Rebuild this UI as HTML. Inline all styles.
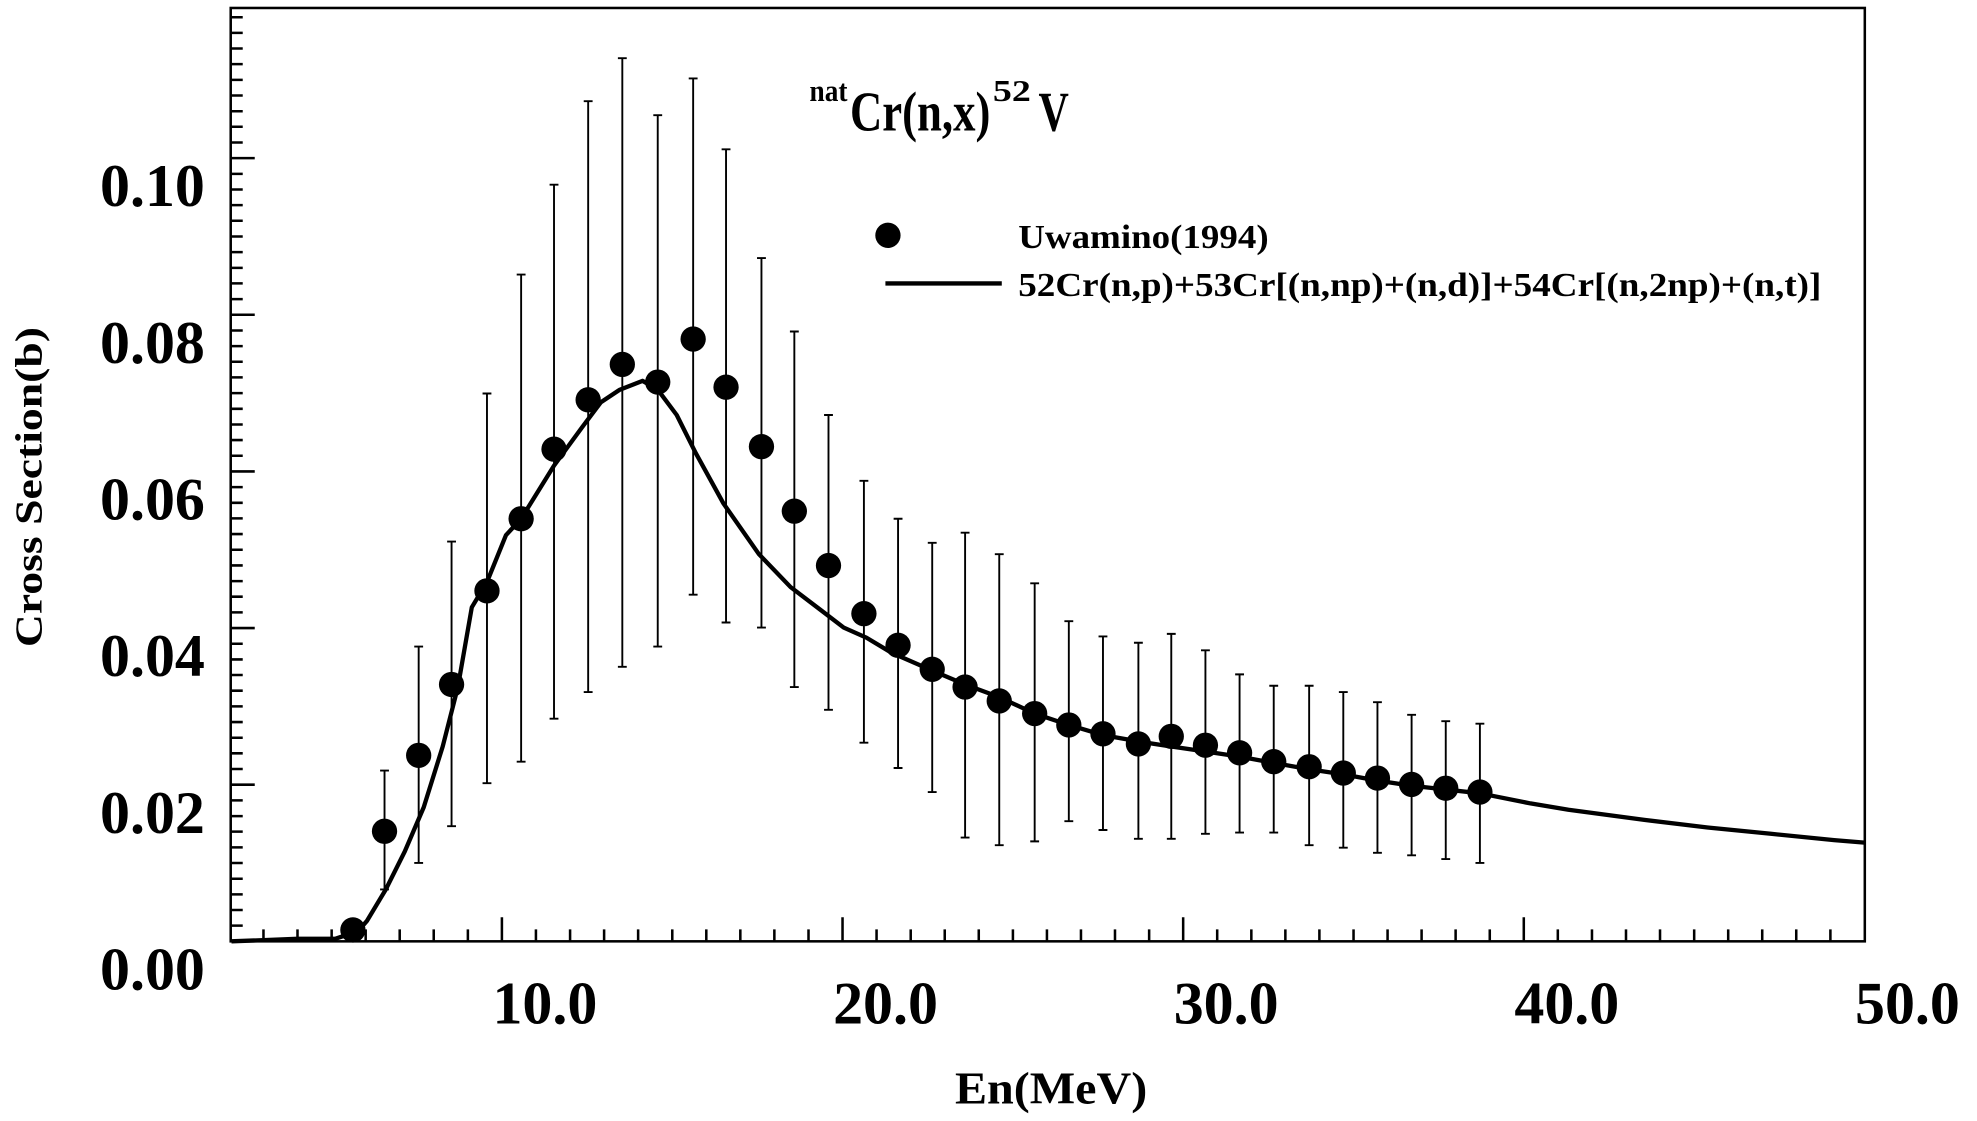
<!DOCTYPE html>
<html><head><meta charset="utf-8"><style>html,body{margin:0;padding:0;background:#fff}svg{display:block}</style></head>
<body>
<svg width="1977" height="1121" viewBox="0 0 1563 886" preserveAspectRatio="none" xmlns="http://www.w3.org/2000/svg" font-family="Liberation Serif, serif" font-weight="bold">
<rect x="0" y="0" width="1563" height="886" fill="#fff"/>
<rect x="182.4" y="6.3" width="1291.9" height="737.7" fill="none" stroke="#000" stroke-width="2"/>
<path stroke="#000" stroke-width="2" fill="none" d="M208.3 744v-9.5M235.2 744v-9.5M262.2 744v-9.5M289.1 744v-9.5M316 744v-9.5M342.9 744v-9.5M369.9 744v-9.5M396.8 744v-19M423.7 744v-9.5M450.7 744v-9.5M477.6 744v-9.5M504.5 744v-9.5M531.5 744v-9.5M558.4 744v-9.5M585.3 744v-9.5M612.2 744v-9.5M639.2 744v-9.5M666.1 744v-19M693 744v-9.5M720 744v-9.5M746.9 744v-9.5M773.8 744v-9.5M800.8 744v-9.5M827.7 744v-9.5M854.6 744v-9.5M881.5 744v-9.5M908.5 744v-9.5M935.4 744v-19M962.3 744v-9.5M989.3 744v-9.5M1016.2 744v-9.5M1043.1 744v-9.5M1070.1 744v-9.5M1097 744v-9.5M1123.9 744v-9.5M1150.8 744v-9.5M1177.8 744v-9.5M1204.7 744v-19M1231.6 744v-9.5M1258.6 744v-9.5M1285.5 744v-9.5M1312.4 744v-9.5M1339.4 744v-9.5M1366.3 744v-9.5M1393.2 744v-9.5M1420.1 744v-9.5M1447.1 744v-9.5
M182.4 731.6h9.5M182.4 719.2h9.5M182.4 706.9h9.5M182.4 694.5h9.5M182.4 682.1h9.5M182.4 669.7h9.5M182.4 657.3h9.5M182.4 645h9.5M182.4 632.6h9.5M182.4 620.2h19M182.4 607.8h9.5M182.4 595.4h9.5M182.4 583.1h9.5M182.4 570.7h9.5M182.4 558.3h9.5M182.4 545.9h9.5M182.4 533.5h9.5M182.4 521.2h9.5M182.4 508.8h9.5M182.4 496.4h19M182.4 484h9.5M182.4 471.6h9.5M182.4 459.3h9.5M182.4 446.9h9.5M182.4 434.5h9.5M182.4 422.1h9.5M182.4 409.7h9.5M182.4 397.4h9.5M182.4 385h9.5M182.4 372.6h19M182.4 360.2h9.5M182.4 347.8h9.5M182.4 335.5h9.5M182.4 323.1h9.5M182.4 310.7h9.5M182.4 298.3h9.5M182.4 285.9h9.5M182.4 273.6h9.5M182.4 261.2h9.5M182.4 248.8h19M182.4 236.4h9.5M182.4 224h9.5M182.4 211.7h9.5M182.4 199.3h9.5M182.4 186.9h9.5M182.4 174.5h9.5M182.4 162.1h9.5M182.4 149.8h9.5M182.4 137.4h9.5M182.4 125h19M182.4 112.6h9.5M182.4 100.2h9.5M182.4 87.9h9.5M182.4 75.5h9.5M182.4 63.1h9.5M182.4 50.7h9.5M182.4 38.3h9.5M182.4 26h9.5M182.4 13.6h9.5"/>
<g font-size="47.4" fill="#000">
<text x="430.8" y="809" text-anchor="middle">10.0</text>
<text x="700.1" y="809" text-anchor="middle">20.0</text>
<text x="969.4" y="809" text-anchor="middle">30.0</text>
<text x="1238.7" y="809" text-anchor="middle">40.0</text>
<text x="1508" y="809" text-anchor="middle">50.0</text>
<text x="162" y="782" text-anchor="end">0.00</text>
<text x="162" y="658.2" text-anchor="end">0.02</text>
<text x="162" y="534.4" text-anchor="end">0.04</text>
<text x="162" y="410.6" text-anchor="end">0.06</text>
<text x="162" y="286.8" text-anchor="end">0.08</text>
<text x="162" y="163" text-anchor="end">0.10</text>
</g>
<text x="831" y="872" font-size="36" text-anchor="middle" textLength="152" lengthAdjust="spacingAndGlyphs">En(MeV)</text>
<text transform="translate(33,385) rotate(-90)" font-size="30" text-anchor="middle" textLength="253" lengthAdjust="spacingAndGlyphs">Cross Section(b)</text>
<text x="640" y="80" font-size="24" textLength="30" lengthAdjust="spacingAndGlyphs">nat</text>
<text x="672" y="103" font-size="44" textLength="111" lengthAdjust="spacingAndGlyphs">Cr(n,x)</text>
<text x="785" y="80" font-size="24" textLength="30" lengthAdjust="spacingAndGlyphs">52</text>
<text x="821" y="103" font-size="44" textLength="24" lengthAdjust="spacingAndGlyphs">V</text>
<circle cx="702" cy="186" r="10" fill="#000"/>
<text x="805" y="196" font-size="27" textLength="198" lengthAdjust="spacingAndGlyphs">Uwamino(1994)</text>
<line x1="700" y1="224" x2="792" y2="224" stroke="#000" stroke-width="3.5"/>
<text x="805" y="234" font-size="27" textLength="635" lengthAdjust="spacingAndGlyphs">52Cr(n,p)+53Cr[(n,np)+(n,d)]+54Cr[(n,2np)+(n,t)]</text>
<polyline fill="none" stroke="#000" stroke-width="3.4" stroke-linejoin="round" points="183,744 235,742 265,742 283,736 290,728 305,703 320,673 335,638 350,590 362,543 373,480 385,460 400,423 412,410 438,368 460,338 475,318 490,308 508,301 520,308 535,328 550,358 572,398 600,438 625,464 650,483 667,496 685,504 705,516 737,530 763,541 790,551 818,564 845,573 872,581 900,586 926,590 953,594 980,598 1007,603 1035,608 1062,612 1089,617 1116,621 1143,624 1170,627 1210,635 1240,640 1300,648 1350,654 1400,659 1450,664 1474,666"/>
<path stroke="#000" stroke-width="1.5" fill="none" d="M304 609V703M300.5 609h7M300.5 703h7
M331 511V682M327.5 511h7M327.5 682h7
M357 428V653M353.5 428h7M353.5 653h7
M385 311V619M381.5 311h7M381.5 619h7
M412 217V602M408.5 217h7M408.5 602h7
M438 146V568M434.5 146h7M434.5 568h7
M465 80V547M461.5 80h7M461.5 547h7
M492 46V527M488.5 46h7M488.5 527h7
M520 91V511M516.5 91h7M516.5 511h7
M548 62V470M544.5 62h7M544.5 470h7
M574 118V492M570.5 118h7M570.5 492h7
M602 204V496M598.5 204h7M598.5 496h7
M628 262V543M624.5 262h7M624.5 543h7
M655 328V561M651.5 328h7M651.5 561h7
M683 380V587M679.5 380h7M679.5 587h7
M710 410V607M706.5 410h7M706.5 607h7
M737 429V626M733.5 429h7M733.5 626h7
M763 421V662M759.5 421h7M759.5 662h7
M790 438V668M786.5 438h7M786.5 668h7
M818 461V665M814.5 461h7M814.5 665h7
M845 491V649M841.5 491h7M841.5 649h7
M872 503V656M868.5 503h7M868.5 656h7
M900 508V663M896.5 508h7M896.5 663h7
M926 501V663M922.5 501h7M922.5 663h7
M953 514V659M949.5 514h7M949.5 659h7
M980 533V658M976.5 533h7M976.5 658h7
M1007 542V658M1003.5 542h7M1003.5 658h7
M1035 542V668M1031.5 542h7M1031.5 668h7
M1062 547V670M1058.5 547h7M1058.5 670h7
M1089 555V674M1085.5 555h7M1085.5 674h7
M1116 565V676M1112.5 565h7M1112.5 676h7
M1143 570V679M1139.5 570h7M1139.5 679h7
M1170 572V682M1166.5 572h7M1166.5 682h7"/>
<g fill="#000">
<circle cx="279" cy="735" r="10"/><circle cx="304" cy="657" r="10"/><circle cx="331" cy="597" r="10"/><circle cx="357" cy="541" r="10"/><circle cx="385" cy="467" r="10"/><circle cx="412" cy="410" r="10"/><circle cx="438" cy="355" r="10"/><circle cx="465" cy="316" r="10"/><circle cx="492" cy="288" r="10"/><circle cx="520" cy="302" r="10"/><circle cx="548" cy="268" r="10"/><circle cx="574" cy="306" r="10"/><circle cx="602" cy="353" r="10"/><circle cx="628" cy="404" r="10"/><circle cx="655" cy="447" r="10"/><circle cx="683" cy="485" r="10"/><circle cx="710" cy="510" r="10"/><circle cx="737" cy="529" r="10"/><circle cx="763" cy="543" r="10"/><circle cx="790" cy="554" r="10"/><circle cx="818" cy="564" r="10"/><circle cx="845" cy="573" r="10"/><circle cx="872" cy="580" r="10"/><circle cx="900" cy="588" r="10"/><circle cx="926" cy="582" r="10"/><circle cx="953" cy="589" r="10"/><circle cx="980" cy="595" r="10"/><circle cx="1007" cy="602" r="10"/><circle cx="1035" cy="606" r="10"/><circle cx="1062" cy="611" r="10"/><circle cx="1089" cy="615" r="10"/><circle cx="1116" cy="620" r="10"/><circle cx="1143" cy="623" r="10"/><circle cx="1170" cy="626" r="10"/>
</g>
</svg>
</body></html>
